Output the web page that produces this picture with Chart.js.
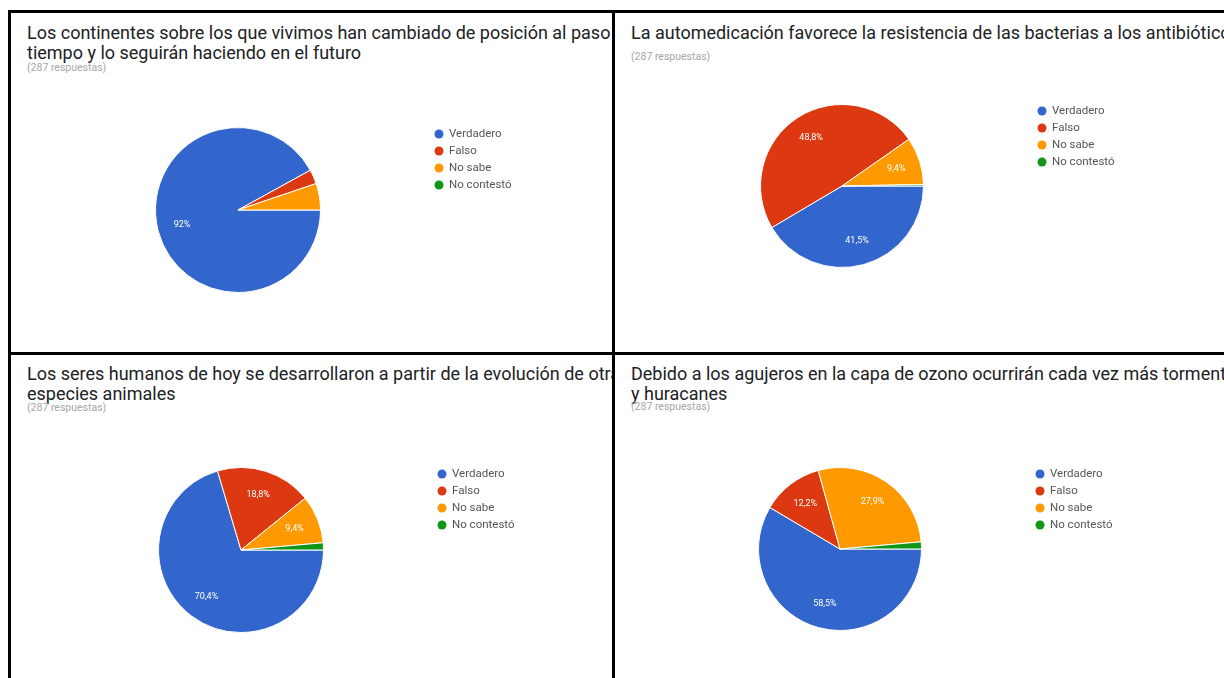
<!DOCTYPE html>
<html>
<head>
<meta charset="utf-8">
<script src="https://cdn.jsdelivr.net/npm/chart.js@4.4.1/dist/chart.umd.min.js"></script>
<style>
  html, body { margin: 0; padding: 0; background: #fff; }
  body { width: 1224px; height: 678px; position: relative; overflow: hidden; font-family: Roboto, Arial, sans-serif; }
  .rule { position: absolute; background: #000; }
  .panel { position: absolute; overflow: hidden; }
  .title { position: absolute; font-size: 18px; line-height: 20px; color: #202124; white-space: nowrap; }
  .sub { position: absolute; font-size: 10.5px; line-height: 11px; color: #a6a6a6; white-space: nowrap; }
  canvas { position: absolute; }
</style>
</head>
<body>

<div class="rule" style="left:8px; top:10px; width:1216px; height:3px"></div>
<div class="rule" style="left:8px; top:10px; width:3px; height:668px"></div>
<div class="rule" style="left:612px; top:10px; width:3px; height:668px"></div>
<div class="rule" style="left:8px; top:352px; width:1216px; height:3px"></div>

<script>
const categories = ['Verdadero', 'Falso', 'No sabe', 'No contestó'];
const colors = ['#3366cc', '#dc3912', '#ff9900', '#109618'];

// percentages of the 287 answers per question
const continentes = [92, 2.8, 5.2, 0];
const automedicacion = [41.5, 48.8, 9.4, 0.3];
const evolucion = [70.4, 18.8, 9.4, 1.4];
const ozono = [58.5, 12.2, 27.9, 1.4];

const respuestas = '(287 respuestas)';

const panels = [
  { box: [11, 13, 601, 339], titleTop: 23, subTop: 62, cx: 238, cy: 210, r: 83, values: continentes,
    title: ['Los continentes sobre los que vivimos han cambiado de posición al paso del',
            'tiempo y lo seguirán haciendo en el futuro'] },
  { box: [615, 13, 609, 339], titleTop: 23, subTop: 51, cx: 842, cy: 186, r: 82, values: automedicacion,
    title: ['La automedicación favorece la resistencia de las bacterias a los antibióticos'] },
  { box: [11, 355, 601, 323], titleTop: 364, subTop: 402, cx: 241, cy: 550, r: 83, values: evolucion,
    title: ['Los seres humanos de hoy se desarrollaron a partir de la evolución de otras',
            'especies animales'] },
  { box: [615, 355, 609, 323], titleTop: 364, subTop: 401, cx: 840, cy: 549, r: 82, values: ozono,
    title: ['Debido a los agujeros en la capa de ozono ocurrirán cada vez más tormentas',
            'y huracanes'] }
];

const LEGEND_SPACE = 230;

function fmtPct(v) {
  return v.toFixed(1).replace(/\.0$/, '').replace('.', ',') + '%';
}

// percentage text inside the bigger slices
const sliceLabels = {
  id: 'sliceLabels',
  afterDatasetsDraw(chart) {
    const ctx = chart.ctx;
    const meta = chart.getDatasetMeta(0);
    const data = chart.data.datasets[0].data;
    ctx.save();
    ctx.font = '9px Roboto, Arial, sans-serif';
    ctx.fillStyle = '#fff';
    ctx.textAlign = 'center';
    ctx.textBaseline = 'middle';
    meta.data.forEach((arc, i) => {
      if (data[i] < 7) return;
      const p = arc.getProps(['x', 'y', 'startAngle', 'endAngle', 'outerRadius'], true);
      const mid = (p.startAngle + p.endAngle) / 2;
      const d = p.outerRadius * 0.7;
      ctx.fillText(fmtPct(data[i]), p.x + Math.cos(mid) * d, p.y + Math.sin(mid) * d);
    });
    ctx.restore();
  }
};

// legend to the right of the pie, built from the legend items
const sideLegend = {
  id: 'sideLegend',
  afterDraw(chart) {
    const ctx = chart.ctx;
    const area = chart.chartArea;
    const items = chart.legend.legendItems || [];
    ctx.save();
    ctx.font = '11.5px Roboto, Arial, sans-serif';
    ctx.textBaseline = 'middle';
    items.forEach((item, i) => {
      const x = area.right + 118;
      const y = area.top + 7 + i * 17;
      ctx.beginPath();
      ctx.arc(x, y, 4.5, 0, Math.PI * 2);
      ctx.fillStyle = item.fillStyle;
      ctx.fill();
      ctx.fillStyle = '#555';
      ctx.fillText(item.text, x + 10, y);
    });
    ctx.restore();
  }
};

panels.forEach((p) => {
  const [bx, by, bw, bh] = p.box;
  const panel = document.createElement('div');
  panel.className = 'panel';
  panel.style.cssText = `left:${bx}px; top:${by}px; width:${bw}px; height:${bh}px`;
  document.body.appendChild(panel);

  p.title.forEach((line, i) => {
    const t = document.createElement('div');
    t.className = 'title';
    t.textContent = line;
    t.style.left = '16px';
    t.style.top = (p.titleTop - by + i * 20) + 'px';
    panel.appendChild(t);
  });
  const s = document.createElement('div');
  s.className = 'sub';
  s.textContent = respuestas;
  s.style.left = '16px';
  s.style.top = (p.subTop - by) + 'px';
  panel.appendChild(s);

  const canvas = document.createElement('canvas');
  canvas.width = p.r * 2 + LEGEND_SPACE;
  canvas.height = p.r * 2;
  canvas.style.left = (p.cx - p.r - bx) + 'px';
  canvas.style.top = (p.cy - p.r - by) + 'px';
  panel.appendChild(canvas);

  new Chart(canvas, {
    type: 'pie',
    data: {
      labels: categories,
      datasets: [{
        data: p.values,
        backgroundColor: colors,
        borderColor: '#fff',
        borderWidth: 1
      }]
    },
    options: {
      responsive: false,
      animation: false,
      rotation: 90,
      layout: { padding: { right: LEGEND_SPACE } },
      plugins: {
        legend: { display: false },
        tooltip: { enabled: false }
      }
    },
    plugins: [sliceLabels, sideLegend]
  });
});
</script>
</body>
</html>
